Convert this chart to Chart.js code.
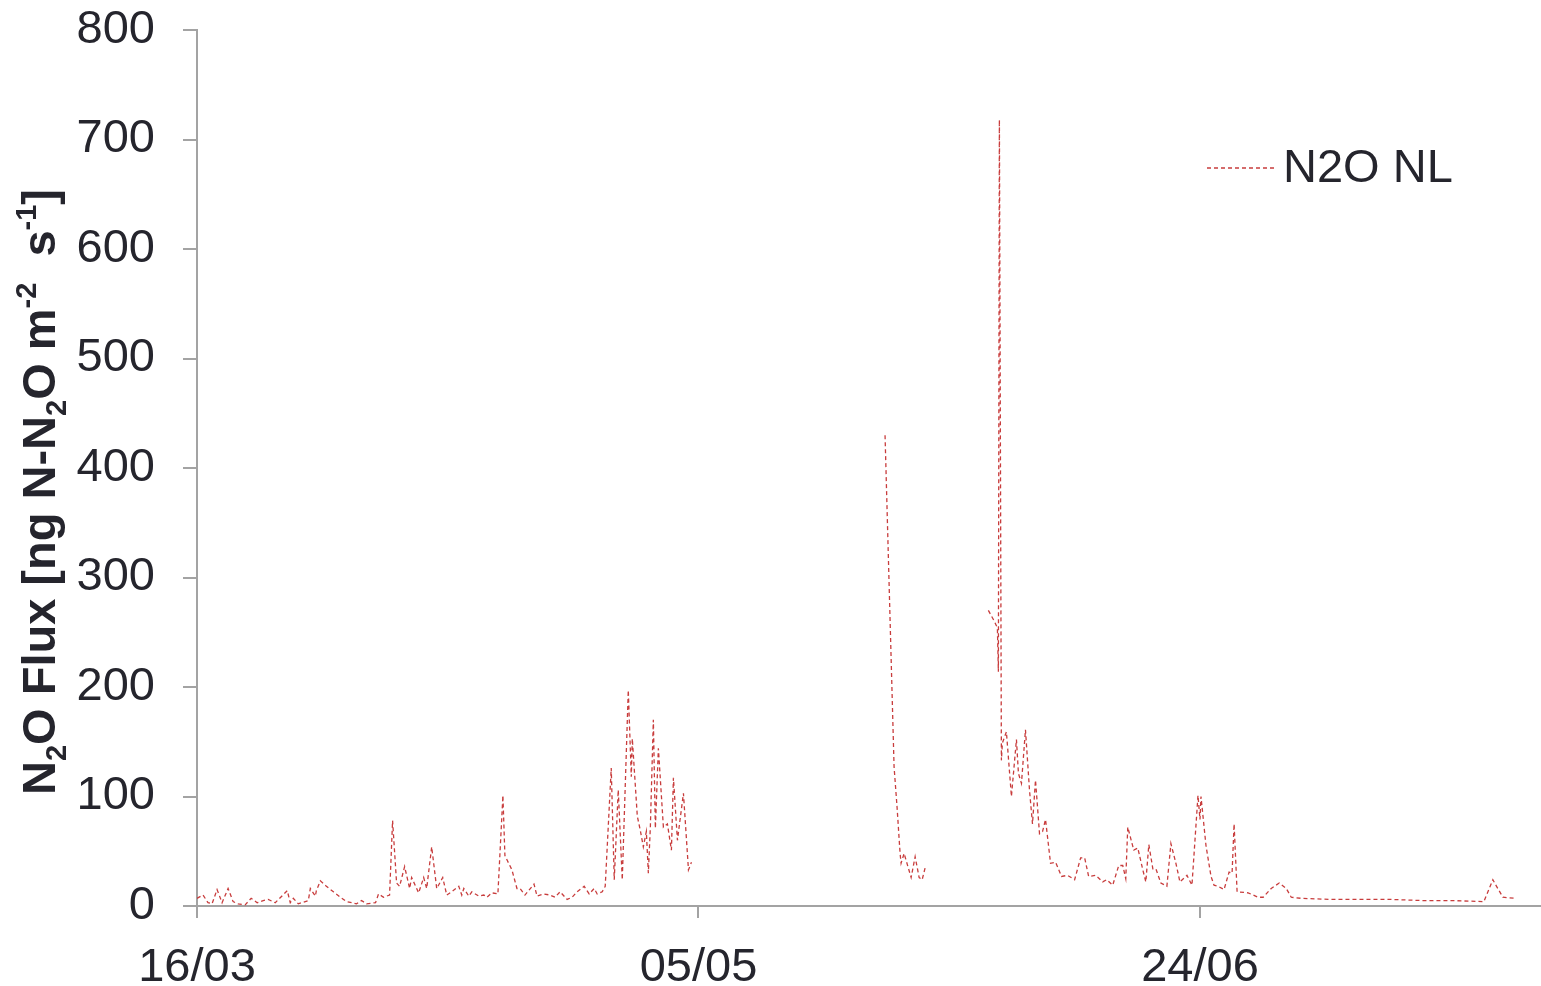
<!DOCTYPE html>
<html>
<head>
<meta charset="utf-8">
<title>N2O Flux</title>
<script src="https://cdn.jsdelivr.net/npm/chart.js@4.4.1/dist/chart.umd.min.js"></script>
<style>
    html, body { margin: 0; padding: 0; background: #fff; }
    canvas { display: block; }
</style>
</head>
<body>
<canvas id="fluxChart" width="1541" height="986"></canvas>
<script>
// Days since 16/03 (null flux = gap in the record)
const days = [
    0.0, 0.6, 1.1, 1.5, 2.0, 2.5, 3.1, 3.6, 4.1, 4.8, 5.4, 6.0, 6.6, 7.1, 7.8,
    9.0, 9.3, 9.6, 10.1, 11.1, 11.3, 11.8, 11.9, 12.3, 12.9, 13.6, 14.3, 14.9,
    15.9, 16.4, 16.9, 17.8, 18.1, 18.6, 19.2, 19.5, 19.9, 20.2, 20.7, 21.2, 21.4,
    22.1, 22.6, 22.9, 23.4, 23.9, 24.5, 24.9, 25.4, 26.1, 26.4, 26.6, 27.1, 27.4,
    28.1, 28.6, 28.9, 29.4, 30.0, 30.5, 30.7, 31.4, 31.9, 32.2, 32.7, 33.6, 33.9,
    34.6, 35.2, 35.7, 36.2, 36.9, 37.4, 37.9, 38.6, 39.1, 39.6, 39.9, 40.4, 40.7,
    41.3, 41.6, 42.0, 42.4, 43.0, 43.3, 43.4, 43.9, 44.2, 44.5, 44.8, 45.0, 45.2,
    45.5, 45.7, 46.0, 46.5, 46.9, 47.3, 47.5, 47.9, 48.5, 49.0, 49.3,
    50.0,
    68.6, 69.5, 69.8, 70.1, 70.2, 70.5, 71.2, 71.6, 72.0, 72.3, 72.6,
    75.0,
    78.9, 79.5, 79.8, 79.9, 80.0, 80.2, 80.3, 80.7, 81.2, 81.7, 81.9, 82.2, 82.6,
    83.0, 83.3, 83.6, 84.0, 84.3, 84.6, 85.1, 85.6, 86.2, 86.8, 87.5, 88.1, 88.5,
    88.9, 89.6, 90.3, 90.7, 91.3, 91.9, 92.3, 92.6, 92.8, 93.4, 93.8, 94.3, 94.6,
    94.9, 95.3, 95.6, 96.1, 96.7, 97.1, 97.6, 98.0, 98.7, 99.2, 99.8, 100.0, 100.1,
    100.6, 101.1, 101.4, 101.8, 102.4, 102.9, 103.2, 103.4, 103.7, 104.8, 105.8,
    106.3, 107.1, 107.9, 108.6, 109.1, 110.1, 113.1, 116.1, 119.1, 122.1, 125.0,
    128.3, 129.2, 129.5, 130.2, 131.4
];

const flux = [
    7, 10, 3, 2, 15, 3, 16, 4, 2, 1, 7, 3, 5, 6, 3,
    14, 3, 7, 2, 5, 16, 9, 14, 23, 18, 13, 8, 4,
    2, 5, 2, 3, 11, 8, 10, 78, 21, 18, 36, 16, 26,
    12, 26, 16, 54, 16, 26, 10, 13, 18, 10, 16, 9, 13,
    9, 10, 8, 12, 11, 101, 46, 33, 16, 16, 10, 20, 9,
    11, 10, 8, 13, 6, 8, 13, 18, 11, 16, 11, 13, 18,
    126, 24, 106, 24, 197, 118, 153, 82, 69, 54, 68, 30, 72,
    170, 71, 144, 72, 75, 51, 117, 60, 103, 33, 40,
    null,
    430, 127, 90, 48, 39, 48, 26, 45, 26, 24, 35,
    null,
    270, 260, 254, 214, 718, 133, 149, 159, 100, 152, 121, 112, 161,
    106, 75, 115, 66, 68, 79, 39, 40, 27, 28, 24, 44, 44,
    27, 28, 22, 24, 19, 37, 37, 25, 72, 51, 53, 33, 22,
    56, 34, 34, 21, 18, 57, 39, 22, 28, 19, 101, 79, 100,
    55, 27, 19, 18, 15, 31, 30, 75, 13, 12, 8,
    8, 16, 21, 16, 8, 7, 6, 6, 6, 5, 5,
    4, 24, 19, 8, 7
];

// x axis ticks (days since 16/03) and their date labels
const tickDays = [0, 50, 100];
const tickLabels = ['16/03', '05/05', '24/06'];

const seriesLabel = 'N2O NL';

document.addEventListener('DOMContentLoaded', function() {
    const colors = {
        line: '#C83C3C',
        axis: '#A3A3A3',
        text: '#25252D'
    };
    const fontFamily = "'Liberation Sans', Arial, sans-serif";

    // y title with sub/superscripts: [text, mode] mode 0 normal, 1 sub, -1 sup
    const titleParts = [
        ['N', 0], ['2', 1], ['O Flux [ng N-N', 0], ['2', 1], ['O m', 0],
        ['-2', -1], ['  s', 0], ['-1', -1], [']', 0]
    ];

    const decorPlugin = {
        id: 'decor',
        afterDraw(chart) {
            const ctx = chart.ctx;

            // rotated axis title
            const big = 'bold 47px ' + fontFamily;
            const small = 'bold 29px ' + fontFamily;
            ctx.save();
            ctx.fillStyle = colors.text;
            ctx.textBaseline = 'alphabetic';
            let total = 0;
            titleParts.forEach(p => {
                ctx.font = p[1] === 0 ? big : small;
                total += ctx.measureText(p[0]).width;
            });
            ctx.translate(55, 492);
            ctx.rotate(-Math.PI / 2);
            let cx = -total / 2;
            titleParts.forEach(p => {
                ctx.font = p[1] === 0 ? big : small;
                const dy = p[1] === 1 ? 11 : (p[1] === -1 ? -19 : 0);
                ctx.fillText(p[0], cx, dy);
                cx += ctx.measureText(p[0]).width;
            });
            ctx.restore();

            // legend
            ctx.save();
            ctx.strokeStyle = colors.line;
            ctx.lineWidth = 1.3;
            ctx.setLineDash([4, 3]);
            ctx.beginPath();
            ctx.moveTo(1207, 168);
            ctx.lineTo(1276, 168);
            ctx.stroke();
            ctx.setLineDash([]);
            ctx.fillStyle = colors.text;
            ctx.font = '47px ' + fontFamily;
            ctx.textBaseline = 'middle';
            ctx.fillText(seriesLabel, 1283, 169);
            ctx.restore();
        }
    };

    const ctx = document.getElementById('fluxChart').getContext('2d');
    new Chart(ctx, {
        type: 'line',
        data: {
            datasets: [{
                label: seriesLabel,
                data: days.map((d, i) => ({ x: d, y: flux[i] })),
                borderColor: colors.line,
                borderWidth: 1.3,
                borderDash: [4, 3],
                pointRadius: 0,
                tension: 0,
                fill: false,
                spanGaps: false
            }]
        },
        options: {
            responsive: false,
            animation: false,
            layout: {
                padding: { top: 30, right: 0, bottom: 0, left: 0 }
            },
            plugins: {
                legend: { display: false },
                tooltip: { enabled: false }
            },
            scales: {
                x: {
                    type: 'linear',
                    min: 0,
                    max: 134,
                    afterBuildTicks: function(scale) {
                        scale.ticks = tickDays.map(v => ({ value: v }));
                    },
                    afterFit: function(scale) {
                        scale.height = 80;
                        scale.paddingLeft = 0;
                        scale.paddingRight = 0;
                    },
                    grid: {
                        drawOnChartArea: false,
                        tickLength: 12,
                        color: colors.axis,
                        lineWidth: 2
                    },
                    border: { color: colors.axis, width: 2 },
                    ticks: {
                        padding: 22,
                        maxRotation: 0,
                        color: colors.text,
                        font: { family: fontFamily, size: 47 },
                        callback: function(value) {
                            const i = tickDays.indexOf(value);
                            return i >= 0 ? tickLabels[i] : '';
                        }
                    }
                },
                y: {
                    min: 0,
                    max: 800,
                    afterFit: function(scale) {
                        scale.width = 197;
                        scale.paddingTop = 0;
                        scale.paddingBottom = 0;
                    },
                    grid: {
                        drawOnChartArea: false,
                        tickLength: 14,
                        color: colors.axis,
                        lineWidth: 2
                    },
                    border: { color: colors.axis, width: 2 },
                    ticks: {
                        stepSize: 100,
                        padding: 28,
                        color: colors.text,
                        font: { family: fontFamily, size: 47 }
                    }
                }
            }
        },
        plugins: [decorPlugin]
    });
});
</script>
</body>
</html>
